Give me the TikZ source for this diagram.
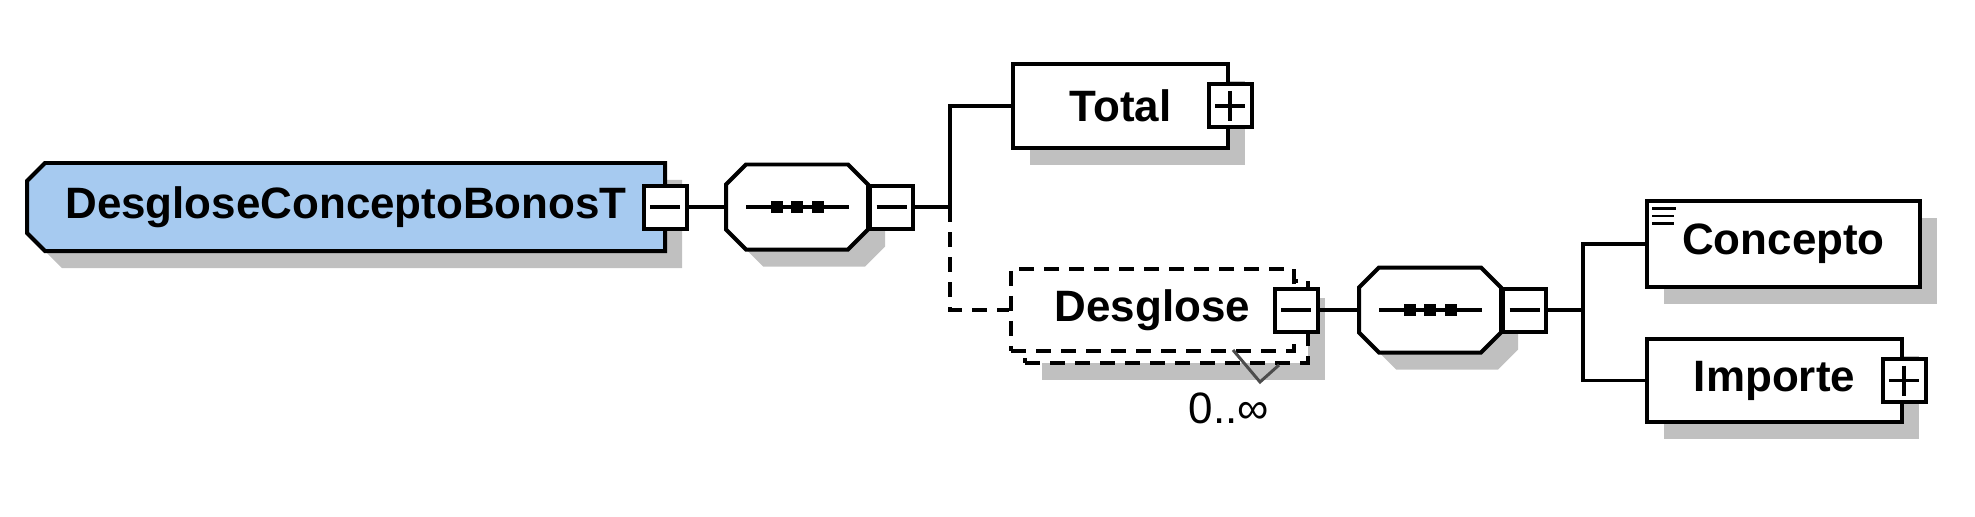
\documentclass[tikz,border=0pt]{standalone}
\usepackage{fontspec}
\setmainfont{Liberation Sans}
\usetikzlibrary{positioning,calc,shadows,backgrounds}
\definecolor{typeblue}{HTML}{A6CAF0}
\definecolor{shadowgray}{HTML}{C0C0C0}

\begin{document}
\begin{tikzpicture}[
  font=\fontsize{12.5}{15}\selectfont\bfseries,
  line width=0.04cm,
  shade/.style={drop shadow={shadow xshift=0.17cm, shadow yshift=-0.17cm,
                fill=shadowgray, opacity=1}},
  elem/.style={draw, fill=white, inner sep=0pt, shade},
  frame/.style={inner sep=0pt, outer sep=0pt},
  opt/.style={draw, fill=white, inner sep=0pt, dash pattern=on 0.15cm off 0.1cm},
  pm/.style={draw, fill=white, minimum size=0.43cm, inner sep=0pt},
  minus/.style={pm, path picture={
                \draw[line width=0.035cm] ([xshift=0.065cm]path picture bounding box.west)
                  -- ([xshift=-0.065cm]path picture bounding box.east);}},
  plus/.style={pm, path picture={
                \draw[line width=0.035cm] ([xshift=0.065cm]path picture bounding box.west)
                  -- ([xshift=-0.065cm]path picture bounding box.east);
                \draw[line width=0.035cm] ([yshift=-0.065cm]path picture bounding box.north)
                  -- ([yshift=0.065cm]path picture bounding box.south);}},
  conn/.style={line width=0.035cm},
  optconn/.style={conn, dash pattern=on 0.15cm off 0.1cm},
  occ/.style={font=\fontsize{12.5}{15}\selectfont\mdseries},
]
\useasboundingbox (0,0) rectangle (19.75,-5.17);

%% ---------- complex type ----------
\node[frame, minimum width=6.38cm, minimum height=0.88cm] (dcbt) at (3.46,-2.07)
  {DesgloseConceptoBonosT\hspace{0.4cm}};
\begin{scope}[on background layer]
  \draw[line width=0.04cm, fill=typeblue, shade] ([xshift=0.18cm]dcbt.north west) -- (dcbt.north east)
    -- (dcbt.south east) -- ([xshift=0.18cm]dcbt.south west)
    -- ([yshift=0.18cm]dcbt.south west) -- ([yshift=-0.18cm]dcbt.north west) -- cycle;
\end{scope}
\node[minus] (dcbt-pm) at (dcbt.east) {};

%% ---------- sequences ----------
\node[frame, minimum width=1.42cm, minimum height=0.85cm] (seq1) at (7.97,-2.07) {};
\node[frame, minimum width=1.42cm, minimum height=0.85cm] (seq2) at (14.30,-3.10) {};

\foreach \s in {seq1,seq2} {
  \draw[fill=white, shade] ([xshift=0.2cm]\s.north west) -- ([xshift=-0.2cm]\s.north east)
    -- ([yshift=-0.2cm]\s.north east) -- ([yshift=0.2cm]\s.south east)
    -- ([xshift=-0.2cm]\s.south east) -- ([xshift=0.2cm]\s.south west)
    -- ([yshift=0.2cm]\s.south west) -- ([yshift=-0.2cm]\s.north west) -- cycle;
  \draw[line width=0.035cm] ([xshift=0.2cm]\s.west) -- ([xshift=-0.19cm]\s.east);
  \foreach \dx in {-0.205,0,0.205}
    \fill ($(\s)+(\dx,0)$) +(-0.06,-0.06) rectangle +(0.06,0.06);
  \node[minus, anchor=west] (\s-pm) at (\s.east) {};
}

\coordinate (j1) at (9.50,-2.07);
\draw[conn] (dcbt-pm.east) -- (seq1.west);
\draw[conn] (seq1-pm.east) -- (j1);

%% ---------- Total ----------
\node[elem, minimum width=2.15cm, minimum height=0.84cm] (total) at (11.205,-1.06)
  {Total\hspace{0.4cm}};
\node[plus] (total-pm) at (total.east) {};
\draw[conn] (j1) |- (total.west);

%% ---------- Desglose (0..unbounded) ----------
\node[opt, shade, minimum width=2.83cm, minimum height=0.82cm] (desglose-back) at (11.665,-3.22) {};
\node[opt, minimum width=2.83cm, minimum height=0.82cm] (desglose) at (11.525,-3.10)
  {Desglose\hspace{0.17cm}};
\node[minus] (desglose-pm) at (desglose.east) {};
\draw[optconn] (j1) |- (desglose.west);

\coordinate (occ-a) at (12.33,-3.50);
\coordinate (occ-v) at (12.60,-3.82);
\coordinate (occ-b) at (12.79,-3.65);
\draw[line width=0.03cm, black!70] (occ-a) -- (occ-v) -- (occ-b);
\node[occ] (occ) at (12.29,-4.08) {0..∞};

\coordinate (j2) at (15.83,-3.10);
\draw[conn] (desglose-pm.east) -- (seq2.west);
\draw[conn] (seq2-pm.east) -- (j2);

%% ---------- Concepto and Importe ----------
\node[elem, minimum width=2.73cm, minimum height=0.86cm] (concepto) at (17.835,-2.44) {Concepto};
\foreach \dy/\len in {0.095/0.24, 0.17/0.22, 0.245/0.22}
  \draw[line width=0.028cm] ($(concepto.north west)+(0.07,-\dy)$) -- +(\len,0);

\node[elem, minimum width=2.55cm, minimum height=0.83cm] (importe) at (17.745,-3.805)
  {Importe\hspace{0.15cm}};
\node[plus] (importe-pm) at (importe.east) {};

\draw[conn] (j2) |- (concepto.west);
\draw[conn] (j2) |- (importe.west);

\end{tikzpicture}
\end{document}
